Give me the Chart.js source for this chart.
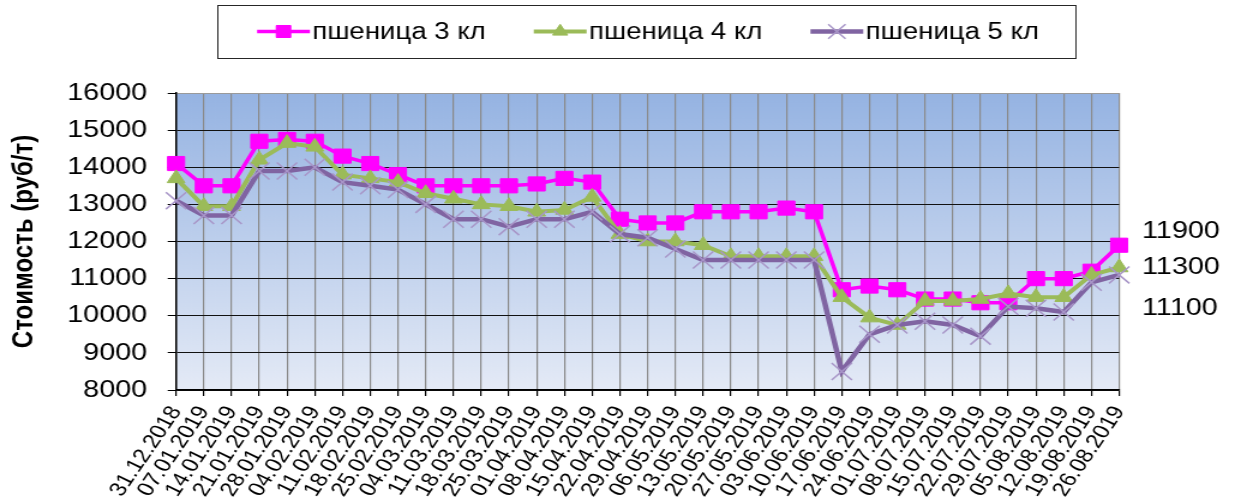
<!DOCTYPE html>
<html>
<head>
<meta charset="utf-8">
<script src="https://cdn.jsdelivr.net/npm/chart.js@4.4.1/dist/chart.umd.min.js"></script>
<style>
  html, body { margin: 0; padding: 0; background: #fff; }
  #priceChart { display: block; }
</style>
</head>
<body>
<!-- the reference is stretched sideways, so the canvas is drawn narrower and widened by CSS -->
<canvas id="priceChart" width="1029" height="499" style="width:1235px;height:499px"></canvas>
<script>
const dates = [
  '31.12.2018', '07.01.2019', '14.01.2019', '21.01.2019', '28.01.2019',
  '04.02.2019', '11.02.2019', '18.02.2019', '25.02.2019', '04.03.2019',
  '11.03.2019', '18.03.2019', '25.03.2019', '01.04.2019', '08.04.2019',
  '15.04.2019', '22.04.2019', '29.04.2019', '06.05.2019', '13.05.2019',
  '20.05.2019', '27.05.2019', '03.06.2019', '10.06.2019', '17.06.2019',
  '24.06.2019', '01.07.2019', '08.07.2019', '15.07.2019', '22.07.2019',
  '29.07.2019', '05.08.2019', '12.08.2019', '19.08.2019', '26.08.2019'
];

const seriesNames = ['пшеница 3 кл', 'пшеница 4 кл', 'пшеница 5 кл'];

const wheat3 = [
  14100, 13500, 13500, 14700, 14750, 14700, 14300, 14100, 13800, 13500,
  13500, 13500, 13500, 13550, 13700, 13600, 12600, 12500, 12500, 12800,
  12800, 12800, 12900, 12800, 10700, 10800, 10700, 10450, 10450, 10350,
  10350, 11000, 11000, 11200, 11900
];

const wheat4 = [
  13700, 12950, 12950, 14200, 14650, 14550, 13800, 13700, 13600, 13300,
  13150, 13000, 12950, 12800, 12850, 13200, 12200, 12000, 12000, 11900,
  11600, 11600, 11600, 11600, 10500, 9950, 9750, 10400, 10400, 10450,
  10600, 10500, 10500, 11100, 11300
];

const wheat5 = [
  13100, 12700, 12700, 13900, 13900, 14000, 13600, 13500, 13400, 13000,
  12600, 12600, 12400, 12600, 12600, 12800, 12200, 12100, 11800, 11500,
  11500, 11500, 11500, 11500, 8500, 9500, 9750, 9850, 9750, 9450,
  10250, 10200, 10100, 10900, 11100
];

const yMin = 8000;
const yMax = 16000;
const yStep = 1000;
const yTitle = 'Стоимость (руб/т)';

const FONT = '"Liberation Sans", Arial, sans-serif';
Chart.defaults.font.family = FONT;
Chart.defaults.color = '#000';

// vertical blue gradient behind the plot
const plotBackground = {
  id: 'plotBackground',
  beforeDraw(chart) {
    const {ctx, chartArea: a} = chart;
    ctx.save();
    ctx.fillStyle = '#fff';
    ctx.fillRect(0, 0, chart.width, chart.height);
    const g = ctx.createLinearGradient(0, a.top, 0, a.bottom);
    g.addColorStop(0, '#95b3e2');
    g.addColorStop(1, '#e4eaf6');
    ctx.fillStyle = g;
    ctx.fillRect(a.left, a.top, a.right - a.left, a.bottom - a.top);
    ctx.restore();
  }
};

// last value of each series written to the right of the plot
const labelOffsets = [-14, 0, 33];
const lastValueLabels = {
  id: 'lastValueLabels',
  afterDatasetsDraw(chart) {
    const ctx = chart.ctx;
    ctx.save();
    ctx.font = '24px ' + FONT;
    ctx.fillStyle = '#000';
    ctx.textAlign = 'left';
    ctx.textBaseline = 'middle';
    chart.data.datasets.forEach((ds, i) => {
      const meta = chart.getDatasetMeta(i);
      const last = meta.data[meta.data.length - 1];
      ctx.fillText(String(ds.data[ds.data.length - 1]), chart.chartArea.right + 19, last.y + labelOffsets[i]);
    });
    ctx.restore();
  }
};

// framed legend with line + marker samples
const framedLegend = {
  id: 'framedLegend',
  afterDraw(chart) {
    const ctx = chart.ctx;
    const lineLen = 44, gap = 2, itemGap = 40;
    const cx = 540, cy = 31.5;
    ctx.save();
    ctx.font = '23px ' + FONT;
    const sets = chart.data.datasets;
    const widths = sets.map(ds => ctx.measureText(ds.label).width);
    const total = widths.reduce((s, w) => s + lineLen + gap + w, 0) + itemGap * (sets.length - 1);
    let x = cx - total / 2;
    ctx.strokeStyle = '#262626';
    ctx.lineWidth = 1;
    ctx.strokeRect(Math.round(x - 33) + 0.5, 5.5, Math.round(total + 63), 53);
    sets.forEach((ds, i) => {
      ctx.strokeStyle = ds.borderColor;
      ctx.lineWidth = ds.borderWidth;
      ctx.beginPath();
      ctx.moveTo(x, cy);
      ctx.lineTo(x + lineLen, cy);
      ctx.stroke();
      ctx.fillStyle = ds.pointBackgroundColor;
      ctx.strokeStyle = ds.pointBorderColor;
      ctx.lineWidth = ds.pointBorderWidth;
      Chart.helpers.drawPoint(ctx, {
        pointStyle: ds.pointStyle,
        radius: ds.pointRadius * 0.85,
        rotation: 0,
        borderWidth: ds.pointBorderWidth
      }, x + lineLen / 2, cy);
      ctx.fillStyle = '#000';
      ctx.textAlign = 'left';
      ctx.textBaseline = 'middle';
      ctx.fillText(ds.label, x + lineLen + gap, cy + 1);
      x += lineLen + gap + widths[i] + itemGap;
    });
    ctx.restore();
  }
};

new Chart(document.getElementById('priceChart'), {
  type: 'line',
  data: {
    labels: dates,
    datasets: [
      {
        label: seriesNames[0],
        data: wheat3,
        order: 3,
        borderColor: '#ff00ff',
        borderWidth: 3.5,
        pointStyle: 'rect',
        pointRadius: 10,
        pointBackgroundColor: '#ff00ff',
        pointBorderColor: '#ff00ff',
        pointBorderWidth: 1,
        clip: false
      },
      {
        label: seriesNames[1],
        data: wheat4,
        order: 2,
        borderColor: '#9bbb59',
        borderWidth: 4,
        pointStyle: 'triangle',
        pointRadius: 8.5,
        pointBackgroundColor: '#9bbb59',
        pointBorderColor: '#9bbb59',
        pointBorderWidth: 1,
        clip: false
      },
      {
        label: seriesNames[2],
        data: wheat5,
        order: 1,
        borderColor: '#8064a2',
        borderWidth: 4.5,
        pointStyle: 'crossRot',
        pointRadius: 12,
        pointBackgroundColor: '#a896c8',
        pointBorderColor: '#a896c8',
        pointBorderWidth: 1.5,
        clip: false
      }
    ]
  },
  options: {
    responsive: false,
    animation: false,
    events: [],
    layout: { padding: { left: 0, right: 96.5, top: 93, bottom: 0 } },
    plugins: {
      legend: { display: false },
      tooltip: { enabled: false }
    },
    scales: {
      x: {
        offset: false,
        grid: { color: '#8a8a8a', lineWidth: 1.2, tickColor: '#000', tickLength: 6 },
        border: { color: '#000', width: 1.5 },
        ticks: {
          autoSkip: false,
          minRotation: 60,
          maxRotation: 60,
          padding: 6,
          color: '#000',
          font: { size: 20 }
        },
        afterFit(scale) { scale.height = 109; }
      },
      y: {
        min: yMin,
        max: yMax,
        ticks: {
          stepSize: yStep,
          padding: 17,
          color: '#000',
          font: { size: 24 },
          callback: v => String(v)
        },
        grid: {
          color: ctx => (ctx.tick && ctx.tick.value === yMax ? '#9a9a9a' : '#111'),
          lineWidth: 1,
          tickColor: '#000',
          tickLength: 7
        },
        border: { color: '#000', width: 1.5 },
        title: {
          display: true,
          text: yTitle,
          color: '#000',
          font: { size: 24, weight: 'bold' },
          padding: { top: 6, bottom: 0 }
        },
        afterFit(scale) { scale.width = 146.7; }
      }
    }
  },
  plugins: [plotBackground, lastValueLabels, framedLegend]
});
</script>
</body>
</html>
